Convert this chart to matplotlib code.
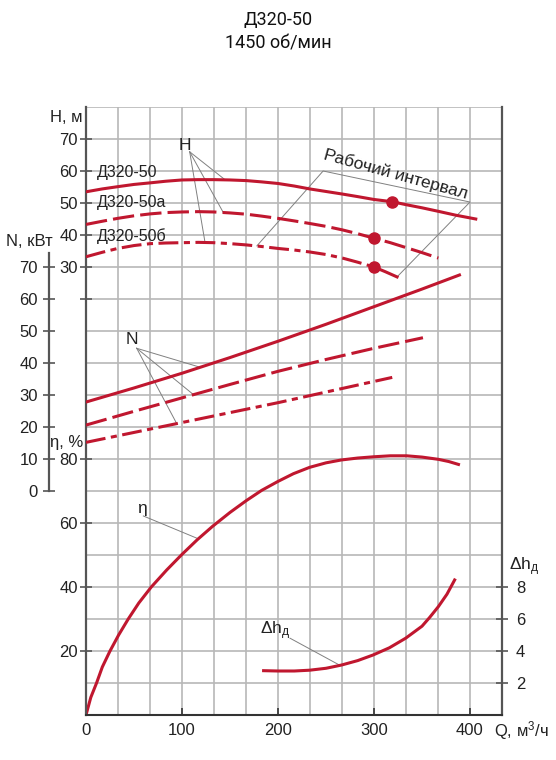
import numpy as np
import matplotlib.pyplot as plt

plt.rcParams['font.family'] = ['Liberation Sans', 'DejaVu Sans']
plt.rcParams['mathtext.fontset'] = 'custom'
plt.rcParams['mathtext.rm'] = 'Liberation Sans'
plt.rcParams['mathtext.it'] = 'Liberation Sans:italic'

RED = '#c0172f'
SPINE = '#555555'
GRID = '#b8b8b8'
TXT = '#222222'
LEAD = '#808080'

# --- data ---
q_h50 = [0, 17, 33, 50, 67, 83, 100, 117, 133, 150, 167, 183, 200, 217, 233, 250,
         267, 283, 300, 319, 333, 350, 367, 385, 406]
h_50 = [53.5, 54.4, 55.1, 55.8, 56.3, 56.8, 57.2, 57.3, 57.3, 57.2, 57.0, 56.6, 56.1,
        55.3, 54.4, 53.6, 52.8, 52.0, 51.1, 50.4, 49.5, 48.5, 47.4, 46.2, 45.0]

q_h50a = [0, 17, 33, 50, 67, 83, 100, 117, 133, 150, 167, 183, 200, 217, 233, 250,
          267, 283, 300, 317, 333, 350, 367]
h_50a = [43.3, 44.3, 45.2, 46.0, 46.6, 47.0, 47.2, 47.3, 47.2, 46.9, 46.5, 45.9, 45.2,
         44.4, 43.6, 42.7, 41.6, 40.4, 39.0, 37.6, 36.1, 34.5, 32.8]

q_h50b = [0, 17, 33, 50, 67, 83, 100, 117, 133, 150, 167, 183, 200, 217, 233, 250,
          267, 283, 300, 312, 324]
h_50b = [33.2, 34.6, 35.8, 36.7, 37.3, 37.5, 37.6, 37.7, 37.6, 37.3, 36.9, 36.4, 35.8,
         35.3, 34.7, 33.9, 32.8, 31.5, 30.0, 28.5, 26.9]

q_n50 = [0, 50, 100, 150, 200, 250, 300, 350, 389]
n_50 = [27.8, 32.2, 36.8, 41.7, 46.8, 52.1, 57.6, 63.1, 67.5]
q_n50a = [0, 50, 100, 150, 200, 250, 300, 351]
n_50a = [20.6, 24.9, 29.1, 33.3, 37.4, 41.1, 44.6, 47.9]
q_n50b = [0, 100, 200, 319]
n_50b = [15.2, 21.4, 27.6, 35.5]

q_eta = [0, 5, 11, 17, 25, 34, 44, 55, 68, 84, 100, 116, 132, 150, 167, 183, 200,
         216, 233, 250, 266, 283, 300, 317, 334, 350, 367, 378, 388]
eta = [0, 5.5, 10, 15, 20, 25, 30, 35, 40, 45.3, 50.2, 54.8, 59.0, 63.3, 67.0, 70.2, 73.0,
       75.4, 77.4, 78.8, 79.7, 80.3, 80.7, 81.0, 81.0, 80.6, 79.9, 79.2, 78.3]

q_dh = [185, 200, 217, 233, 250, 266, 283, 299, 316, 333, 350, 358, 367, 376, 384]
dh = [2.77, 2.75, 2.75, 2.8, 2.92, 3.12, 3.4, 3.75, 4.2, 4.8, 5.55, 6.1, 6.77, 7.55, 8.44]

# operating points
q_op = [319, 300, 300]
h_op = [50.4, 39.0, 30.0]

# working interval bracket (Q, H)
q_work = [178, 247, 400, 324]
h_work = [36.6, 60.0, 50.3, 26.9]

q_ticks = [0, 100, 200, 300, 400]
h_ticks = [20, 30, 40, 50, 60, 70]
h_labels = ['', '30', '40', '50', '60', '70']
n_ticks = [0, 10, 20, 30, 40, 50, 60, 70]
eta_ticks = [20, 40, 60, 80]
dh_ticks = [2, 4, 6, 8]

W, H = 556, 760
fig = plt.figure(figsize=(W / 100, H / 100), dpi=100)
ax = fig.add_axes([86 / W, 45 / H, 416 / W, 608 / H])
ax.set_xlim(0, 1300 / 3)
ax.set_ylim(0, 190)

ax_h = ax.twinx()
ax_h.set_ylim(-110, 80)
ax_n = ax.twinx()
ax_n.set_ylim(-70, 120)
ax_d = ax.twinx()
ax_d.set_ylim(0, 38)

TS = 12

# grid
ax.set_xticks(q_ticks)
ax.set_xticks(np.arange(0, 434, 100 / 3), minor=True)
ax.set_yticks(eta_ticks)
ax.set_yticks(np.arange(0, 191, 10), minor=True)
ax.grid(which='both', color=GRID, lw=1.2, zorder=0)
ax.set_axisbelow(True)
ax.tick_params(which='minor', length=0)
ax.tick_params(axis='x', which='major', direction='in', length=5, width=1.2,
               color='#333333', labelsize=TS, pad=6, labelcolor=TXT)
ax.tick_params(axis='y', which='major', direction='inout', length=8, width=1.2,
               color=SPINE, labelsize=TS, pad=2, labelcolor=TXT, right=False)

for a in (ax_h, ax_n, ax_d):
    for s in a.spines.values():
        s.set_visible(False)

ax.spines['top'].set_visible(False)
ax.spines['left'].set_color(SPINE)
ax.spines['left'].set_linewidth(1.6)
ax.spines['right'].set_color(SPINE)
ax.spines['right'].set_linewidth(1.6)
ax.spines['bottom'].set_color('#333333')
ax.spines['bottom'].set_linewidth(1.5)

# H axis
ax_h.yaxis.set_ticks_position('left')
ax_h.set_yticks(h_ticks)
ax_h.set_yticklabels(h_labels)
ax_h.tick_params(axis='y', direction='inout', length=8, width=1.2, color=SPINE,
                 labelsize=TS, pad=2, labelcolor=TXT)

# N axis
ax_n.yaxis.set_ticks_position('left')
ax_n.spines['left'].set_visible(True)
ax_n.spines['left'].set_position(('outward', 37 * 0.72))
ax_n.spines['left'].set_bounds(0, 74.5)
ax_n.spines['left'].set_color(SPINE)
ax_n.spines['left'].set_linewidth(1.6)
ax_n.set_yticks(n_ticks)
ax_n.tick_params(axis='y', direction='inout', length=8, width=1.2, color=SPINE,
                 labelsize=TS, pad=4, labelcolor=TXT)

# delta h axis
ax_d.yaxis.set_ticks_position('right')
ax_d.set_yticks(dh_ticks)
ax_d.tick_params(axis='y', direction='inout', length=8, width=1.2, color=SPINE,
                 labelsize=TS, pad=6, labelcolor=TXT)

dash = (0, (7, 2))
dashdot = (0, (6.5, 1.8, 2, 1.8))
lw = 2.2

# H curves
ax_h.plot(q_h50, h_50, color=RED, lw=lw)
ax_h.plot(q_h50a, h_50a, color=RED, lw=lw, ls=dash)
k = q_h50b.index(300)
ax_h.plot(q_h50b[:k + 1], h_50b[:k + 1], color=RED, lw=lw, ls=dashdot)
ax_h.plot(q_h50b[k:], h_50b[k:], color=RED, lw=lw)
ax_h.plot(q_op, h_op, 'o', color=RED, ms=8, zorder=5)

# N curves
ax_n.plot(q_n50, n_50, color=RED, lw=lw)
ax_n.plot(q_n50a, n_50a, color=RED, lw=lw, ls=dash)
ax_n.plot(q_n50b, n_50b, color=RED, lw=lw, ls=dashdot)

# efficiency and NPSH
ax.plot(q_eta, eta, color=RED, lw=lw)
ax_d.plot(q_dh, dh, color=RED, lw=lw)

# working interval bracket
ax_h.plot(q_work, h_work, color=LEAD, lw=0.7, zorder=1)
ax_h.text(323, 58.9, 'Рабочий интервал', rotation=-15.5, rotation_mode='anchor',
          ha='center', va='center', fontsize=12.5, color=TXT)

# leader lines
ax_h.text(103, 67.9, 'H', ha='center', va='center', fontsize=12.5, color=TXT)
for qx, qs, hs in ((145, q_h50, h_50), (143, q_h50a, h_50a), (124, q_h50b, h_50b)):
    ax_h.plot([108, qx], [66, np.interp(qx, qs, hs)], color=LEAD, lw=0.7, zorder=1)

ax_n.text(47.6, 47.2, 'N', ha='center', va='center', fontsize=12.5, color=TXT)
for qx, qs, ns in ((119, q_n50, n_50), (112, q_n50a, n_50a), (94.5, q_n50b, n_50b)):
    ax_n.plot([52.8, qx], [44.6, np.interp(qx, qs, ns)], color=LEAD, lw=0.7, zorder=1)

ax.text(58, 64.6, 'η', ha='center', va='center', fontsize=12.5, color=TXT)
ax.plot([59.7, 117], [62.2, np.interp(117, q_eta, eta)], color=LEAD, lw=0.7, zorder=1)

ax_d.text(197, 5.3, r'Δh$_{\mathregular{д}}$', ha='center', va='center',
          fontsize=12.5, color=TXT)
ax_d.plot([212.5, 264.6], [4.8, np.interp(264.6, q_dh, dh)], color=LEAD, lw=0.7, zorder=1)

# curve labels
for name, y in (('Д320-50', 172), ('Д320-50а', 203), ('Д320-50б', 236)):
    fig.text(97 / W, 1 - y / H, name, ha='left', va='center', fontsize=11.5, color=TXT)

# axis labels
fig.text(82 / W, 1 - 117 / H, 'H, м', ha='right', va='center', fontsize=12, color=TXT)
fig.text(6 / W, 1 - 242 / H, 'N, кВт', ha='left', va='center', fontsize=12, color=TXT)
fig.text(83 / W, 1 - 442 / H, 'η, %', ha='right', va='center', fontsize=12, color=TXT)
fig.text(509 / W, 1 - 567 / H, r'Δh$_{\mathregular{д}}$', ha='left', va='center',
         fontsize=12.5, color=TXT)
fig.text(494 / W, 1 - 731 / H, r'Q, м$^{\mathregular{3}}$/ч', ha='left', va='center',
         fontsize=12, color=TXT)

# title
fig.text(278 / W, 1 - 20 / H, 'Д320-50', ha='center', va='center', fontsize=13,
         family=['Roboto', 'DejaVu Sans'], color='#111111')
fig.text(278 / W, 1 - 43 / H, '1450 об/мин', ha='center', va='center', fontsize=13,
         family=['Roboto', 'DejaVu Sans'], color='#111111')

fig.savefig('out.png', dpi=100)
